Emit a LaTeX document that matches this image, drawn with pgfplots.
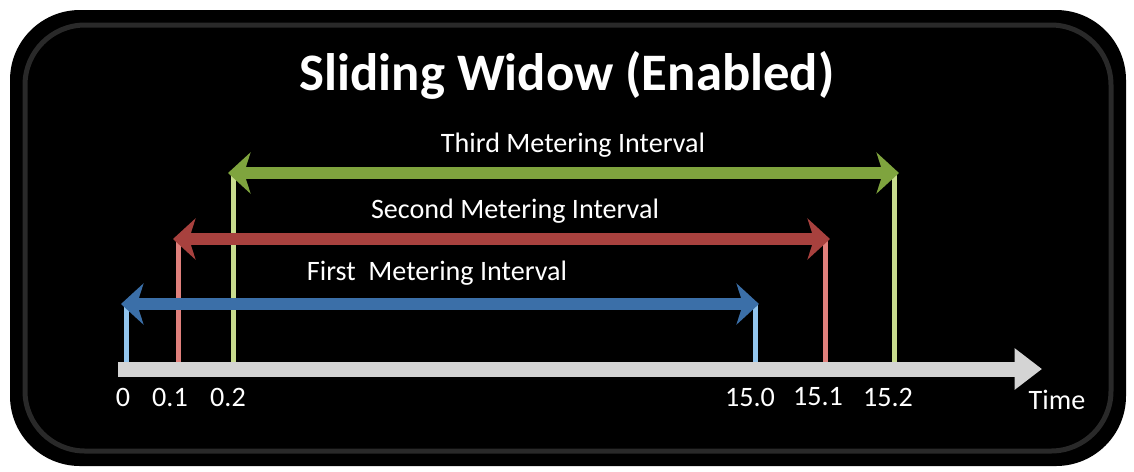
\documentclass[border=0pt]{standalone}
\usepackage{pgfplots}
\pgfplotsset{compat=1.18}
\usepackage{fontspec}
\setmainfont{Carlito}
\usetikzlibrary{arrows.meta}
\definecolor{blueA}{HTML}{3B6FA8}
\definecolor{blueV}{HTML}{92C5EE}
\definecolor{redA}{HTML}{A8413E}
\definecolor{redV}{HTML}{E0807C}
\definecolor{greenA}{HTML}{7FA43E}
\definecolor{greenV}{HTML}{C8DC8E}
\definecolor{bar}{HTML}{D4D4D4}
\begin{document}
\begin{tikzpicture}
\begin{axis}[
  scale only axis, width=22.68cm, height=9.42cm,
  xmin=0, xmax=1134, ymin=0, ymax=471, y dir=reverse,
  hide axis, clip=false,
]
\path (rel axis cs:0,0) rectangle (rel axis cs:1,1);
% background panel
\fill[black, rounded corners=1.4cm] (axis cs:10,10) rectangle (axis cs:1126,466);
\draw[black!84, line width=0.1cm, rounded corners=1.2cm] (axis cs:25,25) rectangle (axis cs:1111,451);
% vertical markers
\addplot[blueV, line width=0.1cm] coordinates {(126,303) (126,362)};
\addplot[blueV, line width=0.1cm] coordinates {(755,303) (755,362)};
\addplot[redV, line width=0.1cm] coordinates {(178,238) (178,362)};
\addplot[redV, line width=0.1cm] coordinates {(825,238) (825,362)};
\addplot[greenV, line width=0.1cm] coordinates {(233,173) (233,362)};
\addplot[greenV, line width=0.1cm] coordinates {(894,173) (894,362)};
% intervals
\addplot[blueA, line width=0.24cm, {Stealth[length=0.45cm,width=0.82cm,inset=0.13cm]}-{Stealth[length=0.45cm,width=0.82cm,inset=0.13cm]}] coordinates {(121,304) (759,304)};
\addplot[redA, line width=0.24cm, {Stealth[length=0.45cm,width=0.82cm,inset=0.13cm]}-{Stealth[length=0.45cm,width=0.82cm,inset=0.13cm]}] coordinates {(173,239) (830,239)};
\addplot[greenA, line width=0.24cm, {Stealth[length=0.45cm,width=0.82cm,inset=0.13cm]}-{Stealth[length=0.45cm,width=0.82cm,inset=0.13cm]}] coordinates {(228,173) (899,173)};
% time axis
\addplot[bar, line width=0.3cm, -{Triangle[length=0.55cm,width=0.8cm]}] coordinates {(118,369) (1042,369)};
% labels
\node[white, font=\fontsize{30}{36}\selectfont\bfseries] at (axis cs:567,75) {Sliding Widow (Enabled)};
\node[white, font=\fontsize{16}{19}\selectfont] at (axis cs:573,145) {Third Metering Interval};
\node[white, font=\fontsize{16}{19}\selectfont] at (axis cs:515,211) {Second Metering Interval};
\node[white, font=\fontsize{16}{19}\selectfont] at (axis cs:437,273) {First\ \ Metering Interval};
\node[white, font=\fontsize{16}{19}\selectfont] at (axis cs:123,397) {0};
\node[white, font=\fontsize{16}{19}\selectfont] at (axis cs:170,397) {0.1};
\node[white, font=\fontsize{16}{19}\selectfont] at (axis cs:228,397) {0.2};
\node[white, font=\fontsize{16}{19}\selectfont] at (axis cs:750,397) {15.0};
\node[white, font=\fontsize{16}{19}\selectfont] at (axis cs:818,397) {15.1};
\node[white, font=\fontsize{16}{19}\selectfont] at (axis cs:888,397) {15.2};
\node[white, font=\fontsize{16}{19}\selectfont] at (axis cs:1057,400) {Time};
\end{axis}
\end{tikzpicture}
\end{document}
